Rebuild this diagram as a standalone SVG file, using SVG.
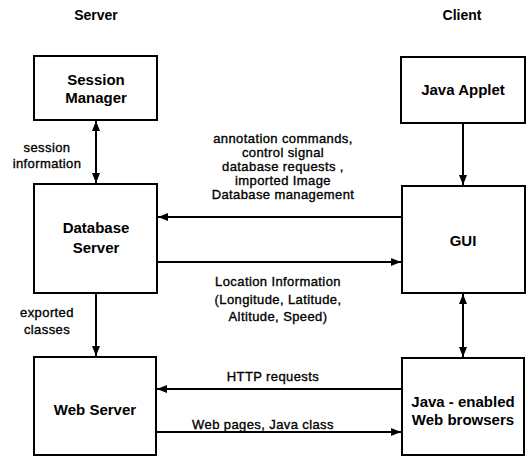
<svg xmlns="http://www.w3.org/2000/svg" width="529" height="465" viewBox="0 0 529 465">
  <style>
    .box { fill: #fff; stroke: #000; stroke-width: 2; }
    .title { font-family: "Liberation Sans", Arial, sans-serif; font-size: 15px; font-weight: bold; text-anchor: middle; fill: #000; }
    .head { font-family: "Liberation Sans", Arial, sans-serif; font-size: 14px; font-weight: bold; text-anchor: middle; fill: #000; }
    .lbl { font-family: "Liberation Sans", Arial, sans-serif; font-size: 13px; text-anchor: middle; fill: #000; stroke: #000; stroke-width: 0.35; letter-spacing: 0.4px; }
    .wire { fill: none; stroke: #000; stroke-width: 2; }
  </style>
  <defs>
    <marker id="tip" markerUnits="userSpaceOnUse" viewBox="0 0 10 8" refX="10" refY="4" markerWidth="10" markerHeight="8" orient="auto-start-reverse">
      <path d="M0,0 L10,4 L0,8 Z" fill="#000"/>
    </marker>
  </defs>
  <rect width="529" height="465" fill="#fff"/>

  <!-- column headings -->
  <text class="head" x="96" y="20">Server</text>
  <text class="head" x="462" y="20">Client</text>

  <!-- connectors -->
  <g id="connectors">
    <line class="wire" x1="96" y1="121" x2="96" y2="183" marker-start="url(#tip)" marker-end="url(#tip)"/>
    <line class="wire" x1="463" y1="123" x2="463" y2="185" marker-end="url(#tip)"/>
    <line class="wire" x1="463" y1="294" x2="463" y2="357" marker-start="url(#tip)" marker-end="url(#tip)"/>
    <line class="wire" x1="402" y1="217" x2="158" y2="217" marker-end="url(#tip)"/>
    <line class="wire" x1="157" y1="262" x2="401" y2="262" marker-end="url(#tip)"/>
    <line class="wire" x1="96" y1="293" x2="96" y2="356" marker-end="url(#tip)"/>
    <line class="wire" x1="402" y1="389" x2="157" y2="389" marker-end="url(#tip)"/>
    <line class="wire" x1="156" y1="432" x2="401" y2="432" marker-end="url(#tip)"/>

    <text class="lbl" x="47" y="152">session</text>
    <text class="lbl" x="47" y="168">information</text>

    <text class="lbl" x="283" y="142.5">annotation commands,</text>
    <text class="lbl" x="283" y="156.5">control signal</text>
    <text class="lbl" x="283" y="170.5">database requests ,</text>
    <text class="lbl" x="283" y="184.5">imported Image</text>
    <text class="lbl" x="283" y="198.5">Database management</text>

    <text class="lbl" x="278" y="286">Location Information</text>
    <text class="lbl" x="278" y="304">(Longitude, Latitude,</text>
    <text class="lbl" x="278" y="321">Altitude, Speed)</text>

    <text class="lbl" x="47" y="317">exported</text>
    <text class="lbl" x="47" y="334">classes</text>

    <text class="lbl" x="273" y="381">HTTP requests</text>
    <text class="lbl" x="263" y="429">Web pages, Java class</text>
  </g>

  <!-- nodes -->
  <g id="session-manager">
    <rect class="box" x="34" y="56" width="123" height="64"/>
    <text class="title" x="96" y="85">Session</text>
    <text class="title" x="96" y="103">Manager</text>
  </g>
  <g id="java-applet">
    <rect class="box" x="401" y="57" width="124" height="66"/>
    <text class="title" x="463" y="95">Java Applet</text>
  </g>
  <g id="database-server">
    <rect class="box" x="34" y="184" width="123" height="109"/>
    <text class="title" x="96" y="233">Database</text>
    <text class="title" x="96" y="253">Server</text>
  </g>
  <g id="gui">
    <rect class="box" x="402" y="186" width="123" height="107"/>
    <text class="title" x="463" y="246">GUI</text>
  </g>
  <g id="web-server">
    <rect class="box" x="34" y="357" width="122" height="98"/>
    <text class="title" x="95" y="415">Web Server</text>
  </g>
  <g id="web-browsers">
    <rect class="box" x="402" y="358" width="122" height="97"/>
    <text class="title" x="463" y="407">Java - enabled</text>
    <text class="title" x="463" y="425">Web browsers</text>
  </g>
</svg>
